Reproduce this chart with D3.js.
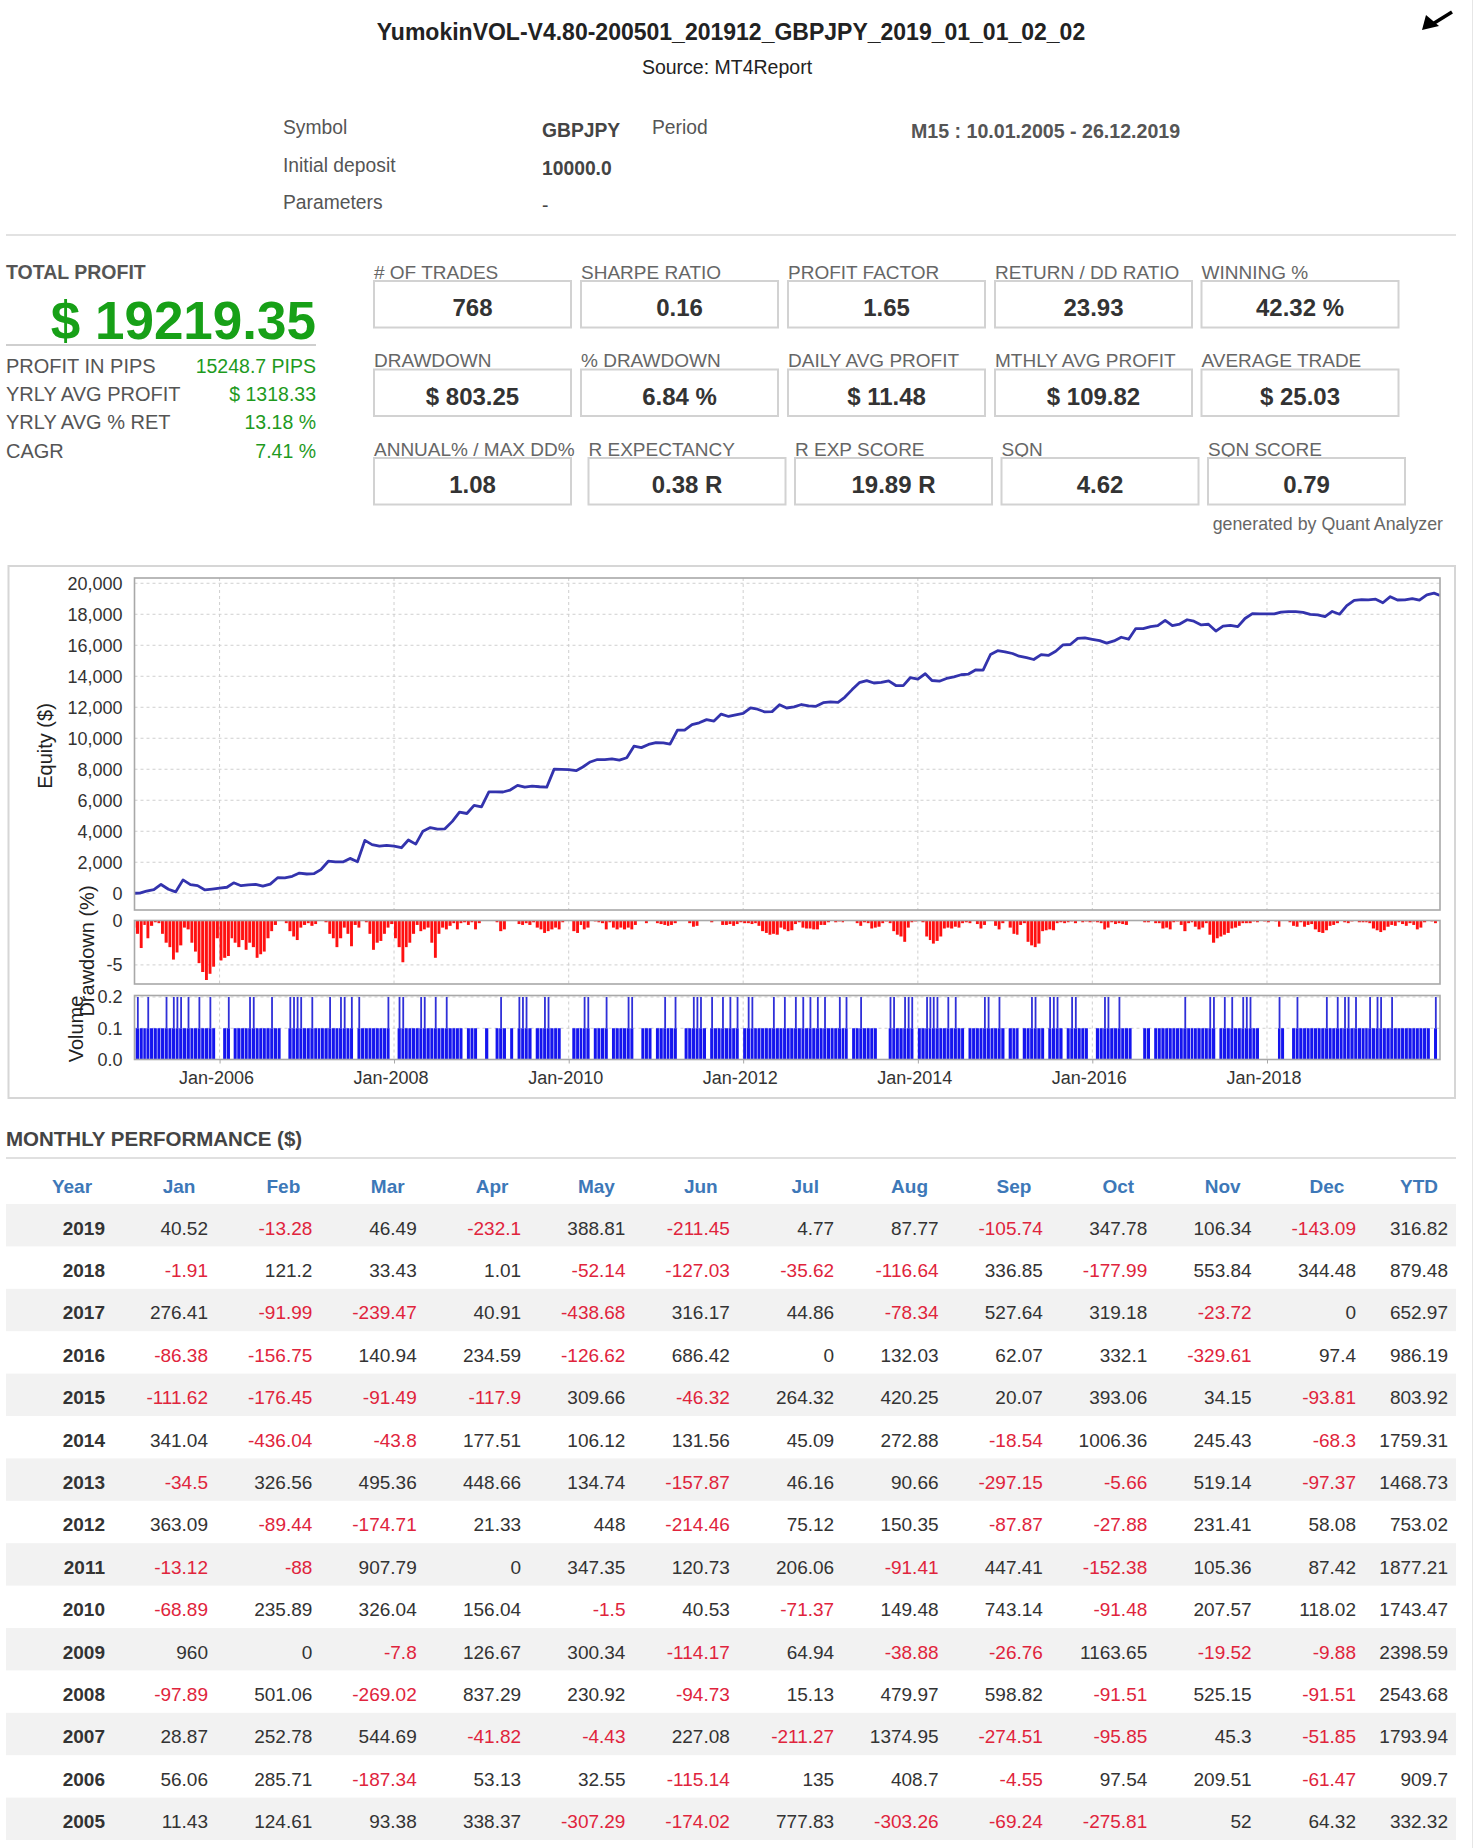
<!DOCTYPE html>
<html>
<head>
<meta charset="utf-8">
<script src="https://cdnjs.cloudflare.com/ajax/libs/d3/7.8.5/d3.min.js"></script>
<style>
  body { margin: 0; background: #fff; }
  svg { display: block; font-family: "Liberation Sans", Arial, Helvetica, sans-serif; }
</style>
</head>
<body>
<svg id="page" width="1476" height="1848"></svg>
<script>
// ---- report header ----
const reportTitle = "YumokinVOL-V4.80-200501_201912_GBPJPY_2019_01_01_02_02";
const reportSource = "Source: MT4Report";
const infoLabels = ["Symbol", "Initial deposit", "Parameters"];
const infoValues = ["GBPJPY", "10000.0", "-"];
const periodLabel = "Period";
const periodValue = "M15 : 10.01.2005 - 26.12.2019";

// ---- summary ----
const totalProfit = "$ 19219.35";
const summaryLabels = ["PROFIT IN PIPS", "YRLY AVG PROFIT", "YRLY AVG % RET", "CAGR"];
const summaryValues = ["15248.7 PIPS", "$ 1318.33", "13.18 %", "7.41 %"];

const statLabels1 = ["# OF TRADES", "SHARPE RATIO", "PROFIT FACTOR", "RETURN / DD RATIO", "WINNING %"];
const statValues1 = ["768", "0.16", "1.65", "23.93", "42.32 %"];
const statLabels2 = ["DRAWDOWN", "% DRAWDOWN", "DAILY AVG PROFIT", "MTHLY AVG PROFIT", "AVERAGE TRADE"];
const statValues2 = ["$ 803.25", "6.84 %", "$ 11.48", "$ 109.82", "$ 25.03"];
const statLabels3 = ["ANNUAL% / MAX DD%", "R EXPECTANCY", "R EXP SCORE", "SQN", "SQN SCORE"];
const statValues3 = ["1.08", "0.38 R", "19.89 R", "4.62", "0.79"];

// ---- monthly performance ($) ----
const months = ["Jan", "Feb", "Mar", "Apr", "May", "Jun", "Jul", "Aug", "Sep", "Oct", "Nov", "Dec"];
const years = [2019, 2018, 2017, 2016, 2015, 2014, 2013, 2012, 2011, 2010, 2009, 2008, 2007, 2006, 2005];
const pl2019 = [40.52, -13.28, 46.49, -232.1, 388.81, -211.45, 4.77, 87.77, -105.74, 347.78, 106.34, -143.09];
const pl2018 = [-1.91, 121.2, 33.43, 1.01, -52.14, -127.03, -35.62, -116.64, 336.85, -177.99, 553.84, 344.48];
const pl2017 = [276.41, -91.99, -239.47, 40.91, -438.68, 316.17, 44.86, -78.34, 527.64, 319.18, -23.72, 0];
const pl2016 = [-86.38, -156.75, 140.94, 234.59, -126.62, 686.42, 0, 132.03, 62.07, 332.1, -329.61, 97.4];
const pl2015 = [-111.62, -176.45, -91.49, -117.9, 309.66, -46.32, 264.32, 420.25, 20.07, 393.06, 34.15, -93.81];
const pl2014 = [341.04, -436.04, -43.8, 177.51, 106.12, 131.56, 45.09, 272.88, -18.54, 1006.36, 245.43, -68.3];
const pl2013 = [-34.5, 326.56, 495.36, 448.66, 134.74, -157.87, 46.16, 90.66, -297.15, -5.66, 519.14, -97.37];
const pl2012 = [363.09, -89.44, -174.71, 21.33, 448, -214.46, 75.12, 150.35, -87.87, -27.88, 231.41, 58.08];
const pl2011 = [-13.12, -88, 907.79, 0, 347.35, 120.73, 206.06, -91.41, 447.41, -152.38, 105.36, 87.42];
const pl2010 = [-68.89, 235.89, 326.04, 156.04, -1.5, 40.53, -71.37, 149.48, 743.14, -91.48, 207.57, 118.02];
const pl2009 = [960, 0, -7.8, 126.67, 300.34, -114.17, 64.94, -38.88, -26.76, 1163.65, -19.52, -9.88];
const pl2008 = [-97.89, 501.06, -269.02, 837.29, 230.92, -94.73, 15.13, 479.97, 598.82, -91.51, 525.15, -91.51];
const pl2007 = [28.87, 252.78, 544.69, -41.82, -4.43, 227.08, -211.27, 1374.95, -274.51, -95.85, 45.3, -51.85];
const pl2006 = [56.06, 285.71, -187.34, 53.13, 32.55, -115.14, 135, 408.7, -4.55, 97.54, 209.51, -61.47];
const pl2005 = [11.43, 124.61, 93.38, 338.37, -307.29, -174.02, 777.83, -303.26, -69.24, -275.81, 52, 64.32];
const ytd = [316.82, 879.48, 652.97, 986.19, 803.92, 1759.31, 1468.73, 753.02, 1877.21, 1743.47, 2398.59, 2543.68, 1793.94, 909.7, 332.32];
const monthlyRows = [pl2019, pl2018, pl2017, pl2016, pl2015, pl2014, pl2013, pl2012, pl2011, pl2010, pl2009, pl2008, pl2007, pl2006, pl2005];

// ---- drawdown (%), two readings per month ----
const dd2005 = [0.8, 1.5, 3.1, 0.5, 2.0, 0.6, 0.2, 0.3, 1.5, 2.5, 3.0, 4.4, 3.6, 2.8, 0.8, 1.0, 2.5, 3.5, 4.8, 5.8, 6.7, 6.0, 5.2, 2.0];
const dd2006 = [4.5, 4.2, 4.0, 2.0, 2.5, 3.0, 2.2, 3.3, 2.5, 3.0, 4.2, 3.8, 3.5, 2.0, 1.2, 0.5, 0, 0, 0.3, 1.2, 1.8, 2.2, 0.8, 0.5];
const dd2007 = [0.3, 0.6, 0.4, 0, 0, 0.2, 1.5, 2.0, 3.0, 2.0, 0.8, 1.5, 2.9, 0.5, 0.8, 0, 0.2, 1.5, 3.3, 2.5, 2.3, 1.5, 0.8, 0.4];
const dd2008 = [2.0, 3.0, 4.7, 3.0, 2.5, 1.5, 0.5, 1.2, 1.0, 0.8, 2.5, 4.2, 1.5, 0.8, 1.0, 0.6, 0.3, 1.0, 0.3, 0.2, 0.5, 0.2, 1.0, 0.3];
const dd2009 = [0, 0, 0, 0, 0.2, 1.2, 1.0, 0, 0, 0, 0.4, 0.5, 0.3, 0.5, 0.2, 0.8, 1.0, 1.4, 1.2, 1.0, 0.8, 1.0, 0.2, 0];
const dd2010 = [0, 1.2, 1.4, 0.5, 1.0, 0.8, 0, 0.1, 0.2, 0.3, 1.0, 0.2, 0.8, 1.0, 0.8, 1.0, 0.8, 1.0, 0.5, 0, 0, 0.3, 0, 0];
const dd2011 = [0.3, 0.4, 0.5, 0.6, 0.5, 0.3, 0, 0, 0, 0.3, 0.7, 0.6, 0, 0, 0, 0.2, 0, 0, 0.5, 0.5, 0.4, 0.6, 0.4, 0.2];
const dd2012 = [0.3, 0.3, 0.4, 0.3, 0.6, 1.2, 1.4, 1.6, 1.5, 1.6, 0.8, 1.0, 1.2, 1.1, 0.4, 0.2, 0.8, 0.9, 0.9, 1.0, 1.0, 0.5, 0.5, 0.2];
const dd2013 = [0, 0.2, 0.1, 0.2, 0, 0, 0, 0.3, 0.6, 0.2, 0.3, 0.9, 0.8, 0.7, 0.3, 0.1, 0.3, 1.2, 1.6, 1.8, 2.4, 0.8, 0.2, 0.1];
const dd2014 = [0, 0.2, 1.8, 2.2, 2.6, 2.3, 1.8, 0.9, 0.8, 0.9, 0.7, 0.8, 0.3, 0.2, 0.3, 0, 0.4, 0.9, 0.5, 0, 0, 0.6, 1.0, 0.3];
const dd2015 = [0, 0.8, 1.5, 1.6, 0.5, 0.3, 2.4, 2.8, 3.0, 2.6, 1.2, 1.1, 1.0, 1.1, 0.3, 0.2, 0.3, 0.2, 0.1, 0.3, 0, 0.2, 0.1, 0.2];
const dd2016 = [0.1, 0.2, 0.3, 1.0, 0.8, 0.2, 0.4, 0.3, 0.4, 0.5, 0, 0, 0, 0, 0.2, 0.2, 0, 0.3, 0.3, 0.9, 0.8, 1.0, 0.2, 0.1];
const dd2017 = [0.5, 1.2, 0.3, 0.2, 0.7, 1.0, 0.8, 0.3, 1.6, 2.5, 2.0, 1.8, 1.6, 1.4, 0.9, 0.8, 0.6, 0.3, 0.3, 0.3, 0.1, 0.2, 0, 0.1];
const dd2018 = [0.2, 0, 0.1, 0.7, 0, 0, 0.2, 0.6, 0.7, 0.2, 0.7, 0.5, 0.4, 1.0, 1.3, 1.4, 1.1, 0.6, 0.5, 0.3, 0, 0.2, 0.3, 0.1];
const dd2019 = [0, 0.2, 0.2, 0.2, 0.3, 0.9, 1.1, 1.3, 1.1, 0.7, 0.5, 0.6, 0.2, 0.4, 0.6, 0.3, 0.5, 1.0, 0.8, 0.2, 0, 0.1, 0.3, 0];

// ---- volume (lots), half-month readings: 0 none, 1 = 0.1, 2 = 0.2 ----
const vol2005 = "121121111212221211211210";
const vol2006 = "012011112211112110022221";
const vol2007 = "121111211221202111111120";
const vol2008 = "022111122112112111101110";
const vol2009 = "010012101022210112211100";
const vol2010 = "011122011120111122001110";
const vol2011 = "112112001122210211212120";
const vol2012 = "122111112112112121212121";
const vol2013 = "112120112111100022112220";
const vol2014 = "112222112121101111221121";
const vol2015 = "011101122110222101221110";
const vol2016 = "011221121110001101111111";
const vol2017 = "121111112201212112221100";
const vol2018 = "000210012111111121121221";
const vol2019 = "211121221121111111111020";

// ---- axis ticks ----
const equityTicks = [0, 2000, 4000, 6000, 8000, 10000, 12000, 14000, 16000, 18000, 20000];
const ddTicks = [0, -5];
const volTicks = [0, 0.1, 0.2];
const dateTicks = [2006, 2008, 2010, 2012, 2014, 2016, 2018];

const svg = d3.select("#page");

function txt(g, x, y, s, o = {}) {
  return g.append("text")
    .attr("x", x).attr("y", y)
    .attr("dominant-baseline", "central")
    .attr("text-anchor", o.anchor || "start")
    .attr("fill", o.fill || "#444")
    .style("font-size", (o.size || 18) + "px")
    .style("font-weight", o.bold ? "bold" : "normal")
    .text(s);
}

// ---------- header ----------
txt(svg, 731, 32, reportTitle, {anchor: "middle", size: 23, bold: true, fill: "#222"});
txt(svg, 727, 67, reportSource, {anchor: "middle", size: 19.5, fill: "#222"});
// the little arrow icon, top right
svg.append("path").attr("d", "M1452,12 L1431,25").attr("stroke", "#000").attr("stroke-width", 3.5);
svg.append("path").attr("d", "M1422,30 L1426,15 L1439,26 Z").attr("fill", "#000");

const infoY = [127, 165, 202];
infoLabels.forEach((l, i) => {
  txt(svg, 283, infoY[i], l, {size: 19.3, fill: "#555"});
  txt(svg, 542, infoY[i] + 3, infoValues[i], {size: 19.3, bold: i < 2, fill: "#444"});
});
txt(svg, 652, 127, periodLabel, {size: 19.3, fill: "#555"});
txt(svg, 911, 131, periodValue, {size: 19.6, bold: true, fill: "#555"});
svg.append("line").attr("x1", 6).attr("x2", 1456).attr("y1", 235).attr("y2", 235)
  .attr("stroke", "#e2e2e2").attr("stroke-width", 2);

// ---------- summary ----------
txt(svg, 6, 272, "TOTAL PROFIT", {size: 19.5, bold: true, fill: "#555"});
svg.append("text").attr("x", 316).attr("y", 339).attr("text-anchor", "end")
  .attr("fill", "#17a017").style("font-size", "53px").style("font-weight", "bold").text(totalProfit);
svg.append("line").attr("x1", 6).attr("x2", 316).attr("y1", 345).attr("y2", 345)
  .attr("stroke", "#cfcfcf").attr("stroke-width", 2);
summaryLabels.forEach((l, i) => {
  const y = 366 + i * 28.2;
  txt(svg, 6, y, l, {size: 20, fill: "#555"});
  txt(svg, 316, y, summaryValues[i], {size: 19.5, anchor: "end", fill: "#1e9a1e"});
});

const statRows = [
  {labels: statLabels1, values: statValues1, labelY: 272, top: 281, xs: [374, 581, 788, 995, 1201.5]},
  {labels: statLabels2, values: statValues2, labelY: 360.5, top: 369.5, xs: [374, 581, 788, 995, 1201.5]},
  {labels: statLabels3, values: statValues3, labelY: 449, top: 458, xs: [374, 588.5, 795, 1001.5, 1208]}
];
statRows.forEach(r => {
  r.labels.forEach((l, i) => {
    txt(svg, r.xs[i], r.labelY, l, {size: 19, fill: "#666"});
    svg.append("rect").attr("x", r.xs[i]).attr("y", r.top).attr("width", 197).attr("height", 46.5)
      .attr("fill", "#fff").attr("stroke", "#d2d2d2").attr("stroke-width", 2);
    txt(svg, r.xs[i] + 98.5, r.top + 26.5, r.values[i], {size: 24, bold: true, anchor: "middle", fill: "#333"});
  });
});
txt(svg, 1443, 524, "generated by Quant Analyzer", {size: 17.8, anchor: "end", fill: "#666"});

// ---------- chart panel ----------
svg.append("rect").attr("x", 8.5).attr("y", 566).attr("width", 1446.5).attr("height", 532)
  .attr("fill", "#fff").attr("stroke", "#d6d6d6").attr("stroke-width", 2);

const L = 134.5, R = 1440;
const x = d3.scaleTime().domain([new Date(2005, 0, 10), new Date(2019, 11, 26)]).range([L, R]);
const yEq = d3.scaleLinear().domain([-1080, 20340]).range([910, 578]);
const yDD = d3.scaleLinear().domain([-7.15, 0]).range([984, 920.5]);
const yVol = d3.scaleLinear().domain([0, 0.2]).range([1059.5, 997]);

const panels = [
  {id: "eq", top: 578, bottom: 910},
  {id: "dd", top: 920.5, bottom: 984},
  {id: "vol", top: 995.5, bottom: 1059.5}
];
const defs = svg.append("defs");
panels.forEach(p => {
  defs.append("clipPath").attr("id", "clip-" + p.id)
    .append("rect").attr("x", L).attr("y", p.top).attr("width", R - L).attr("height", p.bottom - p.top);
});

const grid = svg.append("g").attr("stroke", "#cfcfcf").attr("stroke-width", 1).attr("stroke-dasharray", "3,3");
const dateVals = dateTicks.map(yv => new Date(yv, 0, 1));
panels.forEach(p => {
  grid.selectAll(null).data(dateVals).enter().append("line")
    .attr("x1", d => x(d)).attr("x2", d => x(d)).attr("y1", p.top).attr("y2", p.bottom);
});
grid.selectAll(null).data(equityTicks).enter().append("line")
  .attr("x1", L).attr("x2", R).attr("y1", d => yEq(d)).attr("y2", d => yEq(d));
grid.selectAll(null).data(ddTicks).enter().append("line")
  .attr("x1", L).attr("x2", R).attr("y1", d => yDD(d)).attr("y2", d => yDD(d));
grid.selectAll(null).data(volTicks).enter().append("line")
  .attr("x1", L).attr("x2", R).attr("y1", d => yVol(d)).attr("y2", d => yVol(d));

// equity = running total of the monthly table
const chrono = years.map((yv, i) => ({year: yv, vals: monthlyRows[i]})).reverse();
const equity = [{date: new Date(2005, 0, 10), v: 0}];
let run = 0;
chrono.forEach(r => r.vals.forEach((v, m) => {
  run += v;
  const d = (r.year === 2019 && m === 11) ? new Date(2019, 11, 26) : new Date(r.year, m + 1, 1);
  equity.push({date: d, v: run});
}));
svg.append("path").datum(equity)
  .attr("clip-path", "url(#clip-eq)")
  .attr("fill", "none").attr("stroke", "#3333ad").attr("stroke-width", 2.8)
  .attr("stroke-linejoin", "round")
  .attr("d", d3.line().x(d => x(d.date)).y(d => yEq(d.v)));

// half-month slots
function slotStart(yv, k) { return new Date(yv, k >> 1, k % 2 ? 16 : 1); }
function slotEnd(yv, k) { return k % 2 ? new Date(yv, (k >> 1) + 1, 1) : new Date(yv, k >> 1, 16); }

const ddYears = [[2005, dd2005], [2006, dd2006], [2007, dd2007], [2008, dd2008], [2009, dd2009], [2010, dd2010],
  [2011, dd2011], [2012, dd2012], [2013, dd2013], [2014, dd2014], [2015, dd2015], [2016, dd2016],
  [2017, dd2017], [2018, dd2018], [2019, dd2019]];
const ddSlots = [];
ddYears.forEach(([yv, arr]) => arr.forEach((v, k) => { if (v > 0) ddSlots.push({s: slotStart(yv, k), e: slotEnd(yv, k), v}); }));
svg.append("g").attr("clip-path", "url(#clip-dd)")
  .selectAll("rect").data(ddSlots).enter().append("rect")
  .attr("x", d => x(d.s)).attr("width", d => Math.max(1, x(d.e) - x(d.s) - 0.7))
  .attr("y", yDD(0)).attr("height", d => yDD(-d.v) - yDD(0))
  .attr("fill", "#ff1010");

const volYears = [[2005, vol2005], [2006, vol2006], [2007, vol2007], [2008, vol2008], [2009, vol2009], [2010, vol2010],
  [2011, vol2011], [2012, vol2012], [2013, vol2013], [2014, vol2014], [2015, vol2015], [2016, vol2016],
  [2017, vol2017], [2018, vol2018], [2019, vol2019]];
const volSlots = [];
volYears.forEach(([yv, str]) => str.split("").forEach((c, k) => {
  const v = +c / 10;
  if (v > 0) volSlots.push({s: slotStart(yv, k), e: slotEnd(yv, k), v});
}));
const vg = svg.append("g").attr("clip-path", "url(#clip-vol)");
vg.selectAll("rect.base").data(volSlots).enter().append("rect").attr("class", "base")
  .attr("x", d => x(d.s)).attr("width", d => Math.max(1, x(d.e) - x(d.s) - 0.6))
  .attr("y", d => yVol(Math.min(d.v, 0.1))).attr("height", d => yVol(0) - yVol(Math.min(d.v, 0.1)))
  .attr("fill", "#1515ee");
vg.selectAll("rect.tall").data(volSlots.filter(d => d.v > 0.1)).enter().append("rect").attr("class", "tall")
  .attr("x", d => (x(d.s) + x(d.e)) / 2 - 0.9).attr("width", 1.8)
  .attr("y", d => yVol(d.v)).attr("height", d => yVol(0.1) - yVol(d.v))
  .attr("fill", "#3030d8");

// plot borders
panels.forEach(p => {
  svg.append("rect").attr("x", L).attr("y", p.top).attr("width", R - L).attr("height", p.bottom - p.top)
    .attr("fill", "none").attr("stroke", "#a8a8a8").attr("stroke-width", 1.6);
});

// axes
function styleAxis(g) {
  g.select(".domain").remove();
  g.selectAll("text").style("font-size", "18px").attr("fill", "#333")
    .style("font-family", "'Liberation Sans', Arial, sans-serif");
}
svg.append("g").attr("transform", `translate(${L},0)`)
  .call(d3.axisLeft(yEq).tickValues(equityTicks).tickFormat(d3.format(",")).tickSize(0).tickPadding(12))
  .call(styleAxis);
svg.append("g").attr("transform", `translate(${L},0)`)
  .call(d3.axisLeft(yDD).tickValues(ddTicks).tickFormat(d => String(d)).tickSize(0).tickPadding(12))
  .call(styleAxis);
svg.append("g").attr("transform", `translate(${L},0)`)
  .call(d3.axisLeft(yVol).tickValues(volTicks).tickFormat(d3.format(".1f")).tickSize(0).tickPadding(12))
  .call(styleAxis);
const xAxis = svg.append("g").attr("transform", "translate(0,1059.5)")
  .call(d3.axisBottom(x).tickValues(dateVals).tickFormat(d3.timeFormat("Jan-%Y")).tickSize(4).tickPadding(8))
  .call(styleAxis);
xAxis.selectAll("line").attr("stroke", "#a8a8a8");
xAxis.selectAll("text").attr("dx", -3.5);

function yLabel(cx, cy, s) {
  svg.append("text").attr("transform", `translate(${cx},${cy}) rotate(-90)`)
    .attr("text-anchor", "middle").attr("dominant-baseline", "central")
    .attr("fill", "#222").style("font-size", "20px").text(s);
}
yLabel(45, 746, "Equity ($)");
yLabel(87, 951, "Drawdown (%)");
yLabel(76, 1029, "Volume");

// ---------- monthly performance table ----------
txt(svg, 6, 1138, "MONTHLY PERFORMANCE ($)", {size: 20.5, bold: true, fill: "#444"});
svg.append("line").attr("x1", 6).attr("x2", 1456).attr("y1", 1158).attr("y2", 1158)
  .attr("stroke", "#e0e0e0").attr("stroke-width", 2);

const colRight = d3.scalePoint().domain(months).range([208, 1356]);
const yearRight = 105, ytdRight = 1448, headShift = 29;
const rowBand = d3.scaleBand().domain(years).range([1204, 1204 + years.length * 42.4]);
const headColor = "#3d78b8";
txt(svg, yearRight - headShift - 4, 1186, "Year", {size: 19, bold: true, anchor: "middle", fill: headColor});
months.forEach(m => txt(svg, colRight(m) - headShift, 1186, m, {size: 19, bold: true, anchor: "middle", fill: headColor}));
txt(svg, ytdRight - headShift, 1186, "YTD", {size: 19, bold: true, anchor: "middle", fill: headColor});

years.forEach((yv, i) => {
  const top = rowBand(yv);
  if (i % 2 === 0) {
    svg.append("rect").attr("x", 6).attr("y", top).attr("width", 1450).attr("height", rowBand.bandwidth())
      .attr("fill", "#f2f2f2");
  }
  const cy = top + 24;
  txt(svg, yearRight, cy, String(yv), {size: 19, bold: true, anchor: "end", fill: "#333"});
  monthlyRows[i].forEach((v, m) => {
    txt(svg, colRight(months[m]), cy, String(v), {size: 19, anchor: "end", fill: v < 0 ? "#e0243c" : "#333"});
  });
  txt(svg, ytdRight, cy, String(ytd[i]), {size: 19, anchor: "end", fill: ytd[i] < 0 ? "#e0243c" : "#333"});
});

// page edge
svg.append("line").attr("x1", 1472.5).attr("x2", 1472.5).attr("y1", 0).attr("y2", 1848)
  .attr("stroke", "#e6e6e6").attr("stroke-width", 1);
</script>
</body>
</html>
